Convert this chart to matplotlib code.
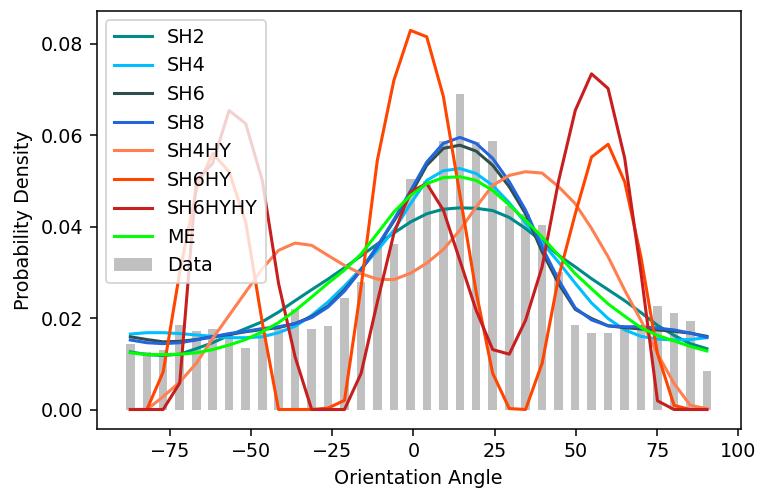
import matplotlib
matplotlib.use("Agg")
import matplotlib.pyplot as plt
from matplotlib.ticker import MultipleLocator

# bin centres of the orientation histogram (degrees)
angles = [-87.1, -82.0, -77.0, -71.9, -66.8, -61.8, -56.7, -51.6, -46.5, -41.5,
          -36.4, -31.3, -26.3, -21.2, -16.1, -11.1, -6.0, -0.9, 4.1, 9.2,
          14.3, 19.3, 24.4, 29.5, 34.5, 39.6, 44.7, 49.8, 54.8, 59.9,
          65.0, 70.0, 75.1, 80.2, 85.2, 90.3]

# measured histogram
data = [0.0143, 0.0125, 0.0130, 0.0184, 0.0172, 0.0176, 0.0160, 0.0135, 0.0168, 0.0175,
        0.0219, 0.0176, 0.0182, 0.0244, 0.0278, 0.0360, 0.0363, 0.0503, 0.0500, 0.0587,
        0.0689, 0.0585, 0.0587, 0.0446, 0.0428, 0.0403, 0.0300, 0.0184, 0.0168, 0.0168,
        0.0175, 0.0178, 0.0227, 0.0210, 0.0194, 0.0084]

# fitted densities
sh2 = [0.0126, 0.0120, 0.0118, 0.0121, 0.0133, 0.0146, 0.0162, 0.0177, 0.0192, 0.0213,
       0.0238, 0.0262, 0.0285, 0.0310, 0.0336, 0.0362, 0.0386, 0.0410, 0.0428, 0.0438,
       0.0441, 0.0440, 0.0435, 0.0420, 0.0396, 0.0367, 0.0337, 0.0312, 0.0286, 0.0262,
       0.0238, 0.0212, 0.0184, 0.0162, 0.0144, 0.0133]
sh4 = [0.0165, 0.0168, 0.0168, 0.0166, 0.0163, 0.0160, 0.0157, 0.0157, 0.0159, 0.0168,
       0.0182, 0.0206, 0.0235, 0.0270, 0.0308, 0.0348, 0.0392, 0.0450, 0.0501, 0.0522,
       0.0527, 0.0516, 0.0490, 0.0452, 0.0408, 0.0365, 0.0322, 0.0276, 0.0233, 0.0199,
       0.0174, 0.0160, 0.0154, 0.0152, 0.0153, 0.0157]
sh6 = [0.0159, 0.0153, 0.0148, 0.0149, 0.0153, 0.0159, 0.0164, 0.0170, 0.0175, 0.0179,
       0.0188, 0.0203, 0.0226, 0.0262, 0.0305, 0.0356, 0.0412, 0.0470, 0.0534, 0.0571,
       0.0578, 0.0565, 0.0534, 0.0487, 0.0428, 0.0345, 0.0275, 0.0219, 0.0199, 0.0183,
       0.0179, 0.0176, 0.0174, 0.0171, 0.0167, 0.0160]
sh8 = [0.0152, 0.0146, 0.0144, 0.0146, 0.0152, 0.0159, 0.0166, 0.0171, 0.0177, 0.0181,
       0.0188, 0.0201, 0.0224, 0.0259, 0.0305, 0.0357, 0.0415, 0.0478, 0.0541, 0.0582,
       0.0595, 0.0582, 0.0549, 0.0498, 0.0436, 0.0355, 0.0283, 0.0222, 0.0196, 0.0183,
       0.0181, 0.0181, 0.0178, 0.0174, 0.0167, 0.0158]
sh4hy = [0.0, 0.0, 0.0028, 0.0060, 0.0101, 0.0155, 0.0206, 0.0257, 0.0308, 0.0348,
         0.0364, 0.0359, 0.0337, 0.0315, 0.0297, 0.0285, 0.0284, 0.0298, 0.0320, 0.0350,
         0.0392, 0.0443, 0.0490, 0.0512, 0.0520, 0.0517, 0.0487, 0.0450, 0.0396, 0.0334,
         0.0261, 0.0195, 0.0122, 0.0057, 0.0009, 0.0002]
sh6hy = [0.0, 0.0, 0.0082, 0.0300, 0.0480, 0.0560, 0.0520, 0.0410, 0.0190, 0.0,
         0.0, 0.0, 0.0003, 0.0020, 0.0268, 0.0545, 0.0720, 0.0829, 0.0815, 0.0685,
         0.0470, 0.0257, 0.0079, 0.0002, 0.0, 0.0101, 0.0290, 0.0428, 0.0552, 0.0580,
         0.0498, 0.0334, 0.0122, 0.0009, 0.0, 0.0]
sh6hyhy = [0.0, 0.0, 0.0, 0.0058, 0.0500, 0.0538, 0.0654, 0.0625, 0.0501, 0.0276,
           0.0115, 0.0, 0.0, 0.0, 0.0079, 0.0235, 0.0385, 0.0476, 0.0494, 0.0436,
           0.0326, 0.0217, 0.0131, 0.0121, 0.0195, 0.0312, 0.0501, 0.0654, 0.0734, 0.0702,
           0.0550, 0.0300, 0.0019, 0.0, 0.0, 0.0]
me = [0.0124, 0.0120, 0.0120, 0.0121, 0.0124, 0.0131, 0.0141, 0.0153, 0.0170, 0.0190,
      0.0216, 0.0246, 0.0276, 0.0305, 0.0340, 0.0385, 0.0432, 0.0468, 0.0494, 0.0507,
      0.0509, 0.0501, 0.0479, 0.0447, 0.0414, 0.0377, 0.0337, 0.0297, 0.0264, 0.0231,
      0.0204, 0.0179, 0.0162, 0.0150, 0.0138, 0.0128]

curves = [
    ("SH2", sh2, "#008B8B"),
    ("SH4", sh4, "#00BFFF"),
    ("SH6", sh6, "#2F4F4F"),
    ("SH8", sh8, "#2265DE"),
    ("SH4HY", sh4hy, "#FF7F50"),
    ("SH6HY", sh6hy, "#FF4500"),
    ("SH6HYHY", sh6hyhy, "#C81E1E"),
    ("ME", me, "#00FF00"),
]

dpi = 137.5
fig = plt.figure(figsize=(760 / dpi, 488 / dpi), dpi=dpi)
ax = fig.add_axes([0.127, 0.1215, 0.8476, 0.8565])

ax.bar(angles, data, width=2.6, color="silver", label="Data")
for name, vals, col in curves:
    ax.plot(angles, vals, color=col, lw=1.6, label=name)

ax.set_xlim(-97.5, 100.7)
ax.set_ylim(-0.0042, 0.0872)
ax.yaxis.set_major_locator(MultipleLocator(0.02))
ax.set_xlabel("Orientation Angle")
ax.set_ylabel("Probability Density")
ax.legend(loc="upper left")

fig.savefig("out.png", dpi=dpi)
